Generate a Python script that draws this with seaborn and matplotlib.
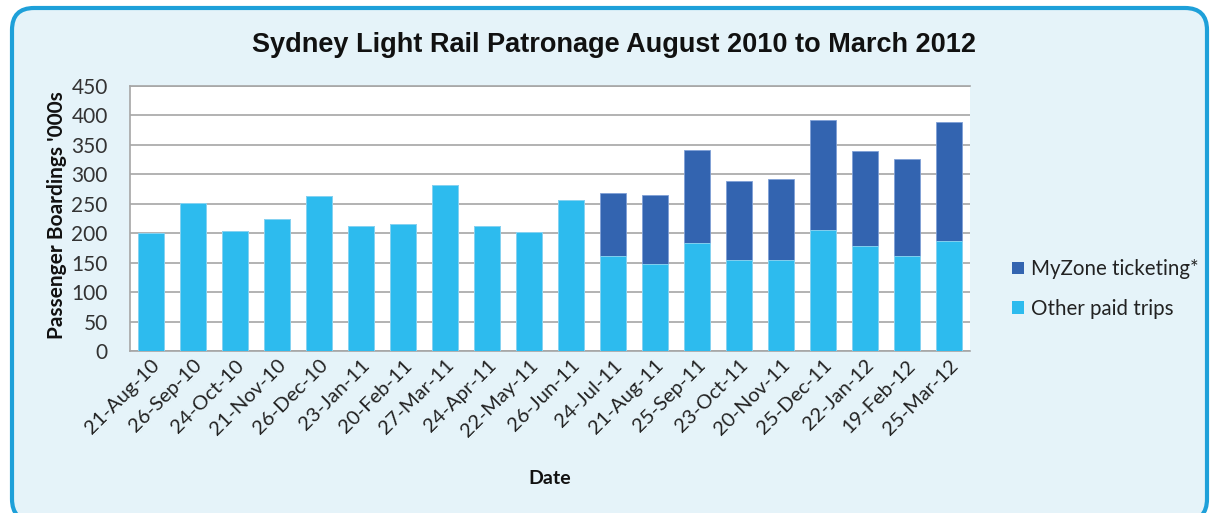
import matplotlib
matplotlib.use("Agg")
import matplotlib.pyplot as plt
import seaborn as sns
import numpy as np
import pandas as pd
from matplotlib.patches import FancyBboxPatch, Patch
from matplotlib.transforms import IdentityTransform

dates = ["21-Aug-10", "26-Sep-10", "24-Oct-10", "21-Nov-10", "26-Dec-10",
         "23-Jan-11", "20-Feb-11", "27-Mar-11", "24-Apr-11", "22-May-11",
         "26-Jun-11", "24-Jul-11", "21-Aug-11", "25-Sep-11", "23-Oct-11",
         "20-Nov-11", "25-Dec-11", "22-Jan-12", "19-Feb-12", "25-Mar-12"]
other_paid = [200, 252, 204, 225, 264, 212, 215, 282, 213, 202,
              256, 162, 147, 184, 155, 154, 205, 178, 162, 187]
myzone = [0, 0, 0, 0, 0, 0, 0, 0, 0, 0,
          0, 107, 118, 157, 134, 138, 188, 161, 164, 202]
yticks = [0, 50, 100, 150, 200, 250, 300, 350, 400, 450]

c_light = "#2DBBEE"
c_dark = "#3364B0"
bg = "#E5F3F9"

df = pd.DataFrame({"Date": dates, "Other": other_paid, "MyZone": myzone})
df["Total"] = df["Other"] + df["MyZone"]

sns.set_theme(style="white")
plt.rcParams["font.family"] = ["Lato", "DejaVu Sans"]

fig = plt.figure(figsize=(12.1, 5.13), dpi=100)
fig.patch.set_facecolor("white")
W, H = 1210, 513
# rounded panel in pixel coordinates (y measured from bottom)
box = FancyBboxPatch((12, -8), 1207 - 12, (H - 8) + 8,
                     boxstyle="round,pad=0,rounding_size=22",
                     transform=IdentityTransform(), facecolor=bg,
                     edgecolor="#1EA0D9", linewidth=3, zorder=-5)
fig.patches.append(box)

ax = fig.add_axes([130 / W, 1 - 351 / H, 840 / W, (351 - 86) / H])
ax.set_zorder(1)
ax.set_facecolor("white")

sns.barplot(data=df, x="Date", y="Total", color=c_dark, saturation=1,
            width=0.64, ax=ax, edgecolor="#7fa0d6", linewidth=0.6, zorder=3)
sns.barplot(data=df, x="Date", y="Other", color=c_light, saturation=1,
            width=0.64, ax=ax, edgecolor="#8fdaf5", linewidth=0.6, zorder=4)

ax.set_ylim(0, 450)
ax.set_xlim(-0.5, len(dates) - 0.5)
ax.set_yticks(yticks)
ax.set_yticklabels([str(v) for v in yticks], fontsize=15, color="#333333")
ax.yaxis.grid(True, color="#A6A6A6", linewidth=1.2, zorder=0)
ax.set_axisbelow(True)
ax.tick_params(axis="y", length=0, pad=16)
ax.tick_params(axis="x", length=0, pad=4)
ax.set_xticks(range(len(dates)))
ax.set_xticklabels(dates, rotation=45, ha="right", rotation_mode="anchor",
                   fontsize=14.5, color="#222222")
for s in ["left", "bottom", "top"]:
    ax.spines[s].set_visible(True)
    ax.spines[s].set_color("#A6A6A6")
    ax.spines[s].set_linewidth(1.2)
ax.spines["right"].set_visible(False)

ax.set_ylabel("")
ax.set_xlabel("")
fig.text(57 / W, 1 - 215 / H, "Passenger Boardings '000s", rotation=90,
         ha="center", va="center", fontsize=15, fontweight="bold",
         color="#111111")
fig.text(550 / W, 1 - 478 / H, "Date", ha="center", va="center",
         fontsize=14, fontweight="bold", color="#111111")
fig.text(614 / W, 1 - 45 / H, "Sydney Light Rail Patronage August 2010 to March 2012",
         ha="center", va="center", fontsize=19.5, fontweight="bold",
         color="#111111", family=["Liberation Sans", "DejaVu Sans"])

handles = [Patch(facecolor=c_dark, edgecolor="none"),
           Patch(facecolor=c_light, edgecolor="none")]
leg = fig.legend(handles, ["MyZone ticketing*", "Other paid trips"],
                 loc="center left", bbox_to_anchor=(994 / W, 1 - 289 / H),
                 frameon=False, fontsize=14.8, handlelength=0.55,
                 handleheight=0.55, handletextpad=0.35, labelspacing=0.95)
for t in leg.get_texts():
    t.set_color("#222222")

fig.savefig("out.png", dpi=100, facecolor=fig.get_facecolor())
